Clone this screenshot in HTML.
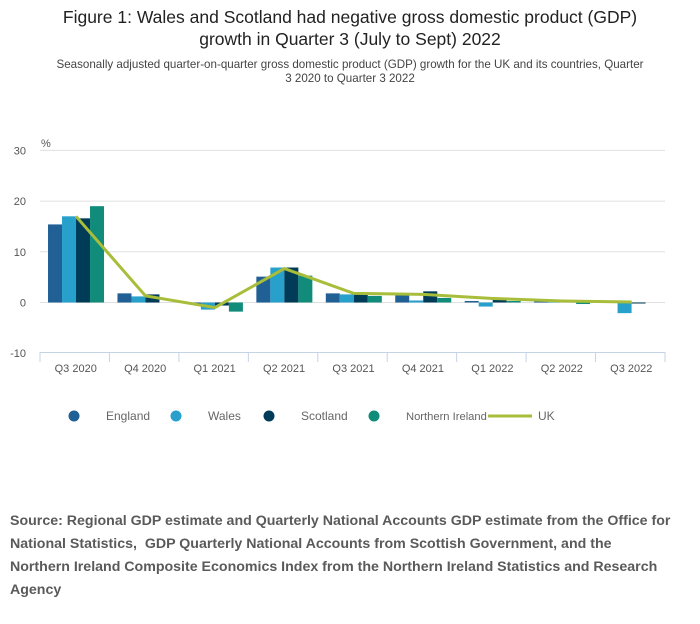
<!DOCTYPE html>
<html><head><meta charset="utf-8"><style>
body{margin:0;background:#fff;font-family:"Liberation Sans",sans-serif;}
#wrap{position:relative;width:700px;height:624px;overflow:hidden;}
.title{position:absolute;left:0;width:700px;top:6px;text-align:center;font-size:17.5px;line-height:22px;color:#222;}
.sub{position:absolute;left:30px;width:640px;top:58px;text-align:center;font-size:11.6px;line-height:14px;color:#444;}
.src{position:absolute;left:10px;width:690px;top:510px;font-size:14.2px;line-height:23px;font-weight:bold;color:#5a5a5a;white-space:nowrap;}
</style></head><body>
<div id="wrap">
<div class="title">Figure 1: Wales and Scotland had negative gross domestic product (GDP)<br>growth in Quarter 3 (July to Sept) 2022</div>
<div class="sub">Seasonally adjusted quarter-on-quarter gross domestic product (GDP) growth for the UK and its countries, Quarter<br>3 2020 to Quarter 3 2022</div>
<svg id="svg" width="700" height="624" style="position:absolute;left:0;top:0"></svg>
<div class="src">Source: Regional GDP estimate and Quarterly National Accounts GDP estimate from the Office for<br>National Statistics,&nbsp; GDP Quarterly National Accounts from Scottish Government, and the<br>Northern Ireland Composite Economics Index from the Northern Ireland Statistics and Research<br>Agency</div>
</div>
<script>
const categories=["Q3 2020","Q4 2020","Q1 2021","Q2 2021","Q3 2021","Q4 2021","Q1 2022","Q2 2022","Q3 2022"];
const england=[15.4,1.8,-0.3,5.1,1.8,1.4,0.3,0.2,0.0];
const wales=[17.0,1.2,-1.4,6.9,1.6,0.4,-0.8,0.1,-2.1];
const scotland=[16.6,1.6,-0.6,6.9,1.6,2.2,0.5,0.0,-0.2];
const nireland=[19.0,0.0,-1.8,5.3,1.3,0.9,0.3,-0.3,0.0];
const uk=[17.0,1.3,-1.0,6.7,1.8,1.6,0.8,0.3,0.1];
const yTicks=[30,20,10,0,-10];
const seriesNames=["England","Wales","Scotland","Northern Ireland"];
const NS="http://www.w3.org/2000/svg";
const svg=document.getElementById('svg');
const L=40,R=665,catW=(R-L)/categories.length;
const y=v=>302.5-v*5.07;
const x=i=>L+i*catW;
function mk(t,a,p){const e=document.createElementNS(NS,t);for(const k in a)e.setAttribute(k,a[k]);(p||svg).appendChild(e);return e;}
yTicks.forEach(t=>{
 if(t>-10){const g=mk('line',{x1:L,x2:R,y1:y(t),y2:y(t),stroke:'#e0e0e0','stroke-width':1});
 
 }
 const tx=mk('text',{x:26,y:y(t)+4,'text-anchor':'end','font-size':11,fill:'#555','font-family':'Liberation Sans, sans-serif'});
 tx.textContent=t;
 
 
});
const pct=mk('text',{x:41,y:147,'font-size':11,fill:'#555','font-family':'Liberation Sans, sans-serif'});pct.textContent='%';


const ax=mk('line',{x1:L,x2:R,y1:352.5,y2:352.5,stroke:'#c5d3e6','stroke-width':1});


for(let i=0;i<=categories.length;i++){const tk=mk('line',{x1:x(i),x2:x(i),y1:352,y2:362,stroke:'#c5d3e6'});
 
 }
categories.forEach((c,i)=>{const t=mk('text',{x:x(i)+catW/2+1,y:372,'text-anchor':'middle','font-size':11,fill:'#555','font-family':'Liberation Sans, sans-serif'});t.textContent=c;
 
 });
const colors=['#206095','#27a0cc','#003c57','#118c7b'];
const all=[england,wales,scotland,nireland];
const bw=14;
all.forEach((s,si)=>{s.forEach((v,i)=>{
 const bx=x(i)+catW/2-2*bw+si*bw+1.3;
 const r=mk('rect',{x:bx,y:Math.min(y(v),y(0)),width:bw,height:Math.abs(y(v)-y(0)),fill:colors[si]});
 
 
});});
const pl=mk('polyline',{points:uk.map((v,i)=>(x(i)+catW/2+1.3)+','+y(v)).join(' '),fill:'none',stroke:'#a8bd3a','stroke-width':3});


const lx=[74,176,269,374],tx=[106,208,301,406],fs=[12,12,12,11.2];
seriesNames.forEach((n,i)=>{
 const c=mk('circle',{cx:lx[i],cy:416,r:5.5,fill:colors[i]});
 
 
 const t=mk('text',{x:tx[i],y:420,'font-size':fs[i],fill:'#666','font-family':'Liberation Sans, sans-serif'});t.textContent=n;
 
 
});
const ll=mk('line',{x1:488,x2:532,y1:416,y2:416,stroke:'#a8bd3a','stroke-width':3});


const ut=mk('text',{x:538,y:420,'font-size':12,fill:'#666','font-family':'Liberation Sans, sans-serif'});ut.textContent='UK';


</script>
</body></html>
